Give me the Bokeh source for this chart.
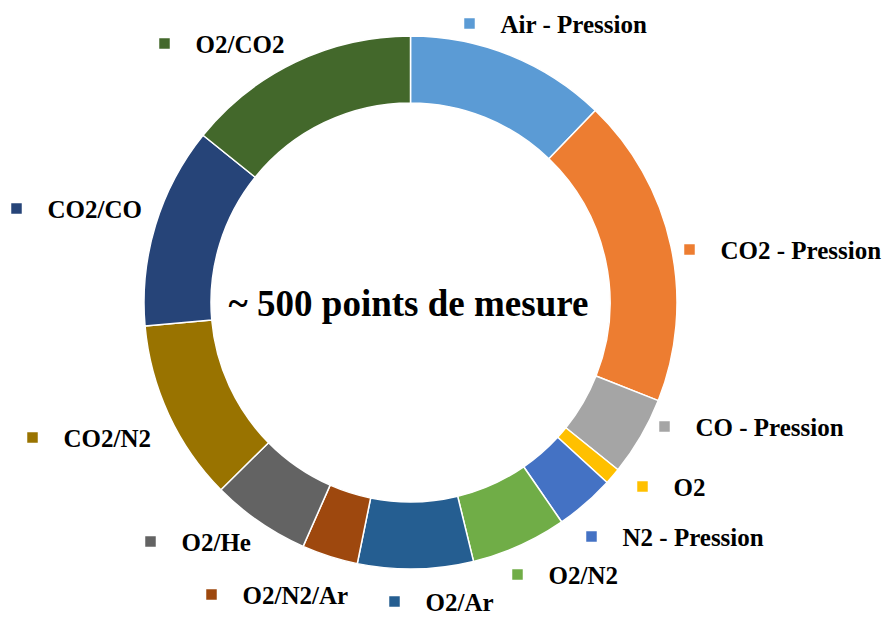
import numpy as np
from bokeh.plotting import figure
from bokeh.models import Range1d, ColumnDataSource
from bokeh.core.properties import value
from bokeh.embed import file_html
from bokeh.resources import INLINE

# ---- data ----
categories = ["Air - Pression", "CO2 - Pression", "CO - Pression", "O2", "N2 - Pression",
              "O2/N2", "O2/Ar", "O2/N2/Ar", "O2/He", "CO2/N2", "CO2/CO", "O2/CO2"]
counts = [61, 94, 24, 5, 18, 29, 35, 17, 30, 55, 61, 71]
center_label = "~ 500 points de mesure"

# ---- styles ----
colors = ["#5B9BD5", "#ED7D31", "#A5A5A5", "#FFC000", "#4472C4", "#70AD47",
          "#255E91", "#9E480E", "#636363", "#997300", "#264478", "#43682B"]

# ---- layout (picture pixels) ----
W, H = 884, 617
CX, CY = 410, 302            # ring centre in picture
R_OUT, R_IN = 266.5, 199.5
label_left = [500, 720, 695, 673, 622, 548, 425, 242, 181, 63, 47, 195]
label_base = [33, 259, 436, 496, 546, 584, 611, 604, 551, 447, 218, 53]
LABEL_SIZE, CENTER_SIZE = 25, 37
BASE_SHIFT = 0.36            # renderer baseline offset, as a fraction of font size
FONT = value("Liberation Serif")

total = float(sum(counts))
fr = np.array(counts) / total
cum = np.concatenate([[0.0], np.cumsum(fr)])
start = np.pi / 2 - 2 * np.pi * cum[:-1]
end = np.pi / 2 - 2 * np.pi * cum[1:]

src = ColumnDataSource(dict(cat=categories, start=start, end=end, color=colors,
                            x=[0] * len(categories), y=[0] * len(categories)))

p = figure(width=W, height=H, output_backend="svg", toolbar_location=None,
           x_range=Range1d(-CX, W - CX), y_range=Range1d(CY - H, CY),
           x_axis_type=None, y_axis_type=None, min_border=0)
p.grid.visible = False
p.outline_line_color = None
p.background_fill_color = "white"
p.border_fill_color = "white"

p.annular_wedge(x="x", y="y", inner_radius=R_IN, outer_radius=R_OUT,
                start_angle="start", end_angle="end", direction="clock",
                fill_color="color", line_color="white", line_width=1.5, source=src)

tx = [l - CX for l in label_left]
ty = [CY - (b - BASE_SHIFT * LABEL_SIZE) for b in label_base]
mx = [l - CX - 31 for l in label_left]
my = [CY - (b - 10) for b in label_base]
lab = ColumnDataSource(dict(x=tx, y=ty, mx=mx, my=my, text=categories, color=colors))
p.scatter(x="mx", y="my", marker="square", size=10.5, fill_color="color",
          line_color=None, source=lab)
p.text(x="x", y="y", text="text", source=lab, text_font=FONT, text_font_style="bold",
       text_font_size=f"{LABEL_SIZE}px", text_align="left", text_baseline="alphabetic",
       text_color="black")

p.text(x=[-2], y=[CY - (316 - BASE_SHIFT * CENTER_SIZE)], text=[center_label],
       text_font=FONT, text_font_style="bold",
       text_font_size=f"{CENTER_SIZE}px", text_align="center", text_baseline="alphabetic",
       text_color="black")

open("out.html", "w").write(file_html(p, INLINE))
